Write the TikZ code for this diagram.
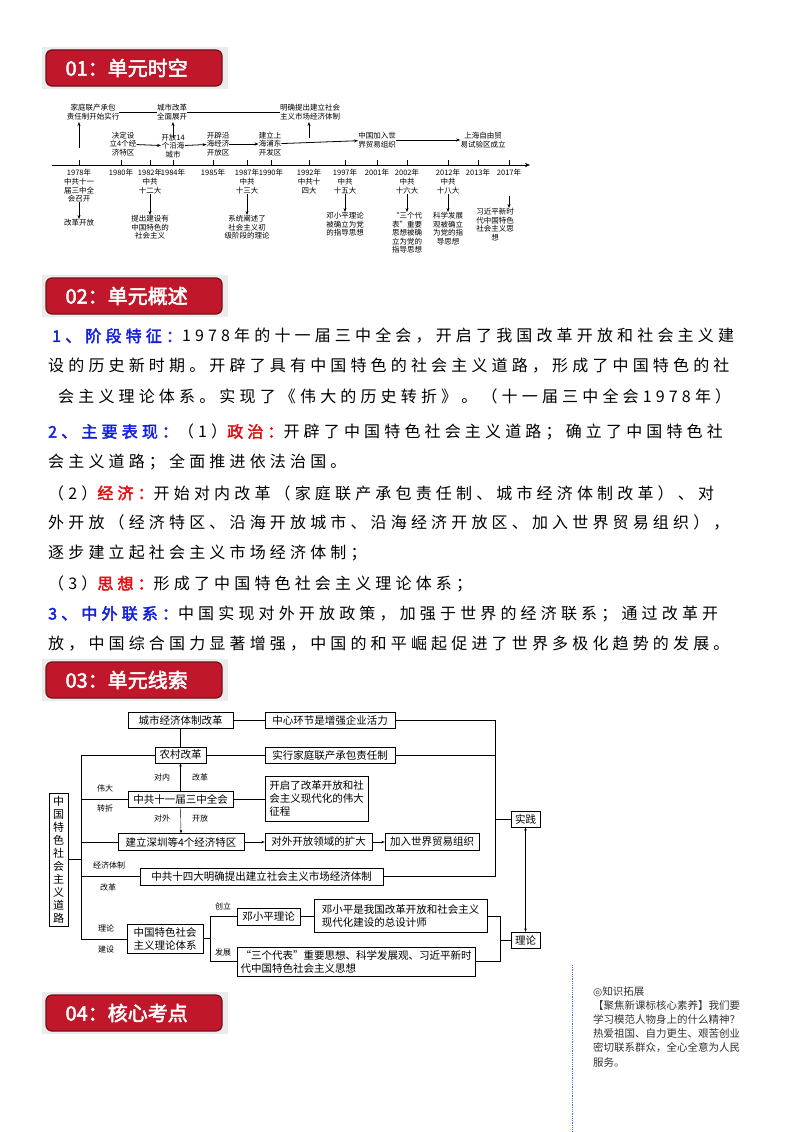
\documentclass[tikz,border=0pt]{standalone}
\usepackage{fontspec}
\setmainfont{Noto Sans CJK SC}[AutoFakeBold=2.5]
\newfontfamily\spfam{Noto Sans CJK SC}[LetterSpace=26,AutoFakeBold=2.5]
\newfontfamily\symfam{DejaVu Sans}
\usetikzlibrary{arrows.meta}
\definecolor{bred}{HTML}{C0172B}
\definecolor{tblue}{HTML}{1420E0}
\definecolor{tred}{HTML}{E01010}
\begin{document}
\begin{tikzpicture}[x=1pt,y=-1pt,
 tl/.style={font=\fontsize{7.5}{8.5}\selectfont,align=center,inner sep=0},
 ar/.style={-{Stealth[length=4pt,width=3pt]},thick},
 bx/.style={draw,font=\fontsize{10.5}{13}\selectfont,inner sep=1,align=left},
 lb/.style={font=\fontsize{8}{9}\selectfont,inner sep=0},
 st/.style={font=\spfam\fontsize{16}{18}\selectfont,anchor=west,inner sep=0},
 ban/.style={fill=bred,draw=bred!60!black,line width=1.2pt,rounded corners=6pt}]
\useasboundingbox (0,0) rectangle (800,1132);
\fill[white] (0,0) rectangle (800,1132);
% banners
\foreach \y/\t in {50/01：单元时空,278/02：单元概述,662/03：单元线索,995/04：核心考点}{
 \fill[black!8] (42,\y-3) rectangle (228,\y+39);
 \draw[ban] (46,\y) rectangle (222,\y+36);
 \node[text=white,font=\bfseries\fontsize{20}{22}\selectfont,anchor=west] at (62,\y+18) {\t};
}
% ===== timeline
\draw[-{Stealth[length=5pt,width=4pt]}] (52,165) -- (530,165);
\foreach \x in {79,121,150,173,213,247,271,309,345,377,407,448,478,509}
 \draw[thick] (\x,165) -- (\x,160);
\foreach \x/\t in {79/1978年,121/1980年,150/1982年,173/1984年,213/1985年,247/1987年,271/1990年,309/1992年,345/1997年,377/2001年,407/2002年,448/2012年,478/2013年,509/2017年}
 \node[tl,anchor=north] (y\t) at (\x,169) {\t};
\node[tl] (t1) at (93,112) {家庭联产承包\\责任制开始实行};
\node[tl] (t2) at (172,112) {城市改革\\全面展开};
\node[tl] (t3) at (310,112) {明确提出建立社会\\主义市场经济体制};
\draw (t1.east) -- (t2.west); \draw (t2.east) -- (t3.west);
\coordinate (u1) at (79,148); \coordinate (u2) at (173,138); \coordinate (u3) at (309,138);
\draw[ar] (u1) -- (79,122); \draw[ar] (u2) -- (173,122); \draw[ar] (u3) -- (309,122);
\node[tl] (m1) at (123,144) {决定设\\立4个经\\济特区};
\node[tl] (m2) at (173,146) {开放14\\个沿海\\城市};
\node[tl] (m3) at (218,144) {开辟沿\\海经济\\开放区};
\node[tl] (m4) at (270,144) {建立上\\海浦东\\开发区};
\node[tl] (m5) at (377,140) {中国加入世\\界贸易组织};
\node[tl] (m6) at (483,140) {上海自由贸\\易试验区成立};
\draw[ar] (m1) -- (m2); \draw[ar] (m2) -- (m3); \draw[ar] (m3) -- (m4);
\draw[ar] (m4) -- (m5); \draw[ar] (m5) -- (m6);
\node[tl,anchor=north] (b1) at (79,178) {中共十一\\届三中全\\会召开};
\node[tl,anchor=north] (b2) at (150,178) {中共\\十二大};
\node[tl,anchor=north] (b3) at (247,178) {中共\\十三大};
\node[tl,anchor=north] (b4) at (309,178) {中共十\\四大};
\node[tl,anchor=north] (b5) at (345,178) {中共\\十五大};
\node[tl,anchor=north] (b6) at (407,178) {中共\\十六大};
\node[tl,anchor=north] (b7) at (448,178) {中共\\十八大};
\node[tl,anchor=north] (c1) at (79,219) {改革开放};
\node[tl,anchor=north] (c2) at (150,215) {提出建设有\\中国特色的\\社会主义};
\node[tl,anchor=north] (c3) at (247,215) {系统阐述了\\社会主义初\\级阶段的理论};
\node[tl,anchor=north] (c5) at (345,212) {邓小平理论\\被确立为党\\的指导思想};
\node[tl,anchor=north] (c6) at (407,212) {“三个代\\表”重要\\思想被确\\立为党的\\指导思想};
\node[tl,anchor=north] (c7) at (448,212) {科学发展\\观被确立\\为党的指\\导思想};
\node[tl,anchor=north] (c8) at (495,208) {习近平新时\\代中国特色\\社会主义思\\想};
\draw[ar] (b1) -- (c1); \draw[ar] (b2) -- (c2); \draw[ar] (b3) -- (c3);
\draw[ar] (b5) -- (c5); \draw[ar] (b6) -- (c6); \draw[ar] (b7) -- (c7);
\coordinate (d8) at (509,196); \draw[ar] (d8) -- (c8.north -| d8);
% ===== section 2
\node[st] (p1) at (52,336) {\textcolor{tblue}{\bfseries 1、阶段特征：}1978年的十一届三中全会，开启了我国改革开放和社会主义建};
\node[st] (p2) at (48,366) {设的历史新时期。开辟了具有中国特色的社会主义道路，形成了中国特色的社};
\node[st] (p3) at (58,396) {会主义理论体系。实现了《伟大的历史转折》。（十一届三中全会1978年）};
\node[st] (p4) at (48,432) {\textcolor{tblue}{\bfseries 2、主要表现：}（1）\textcolor{tred}{\bfseries 政治：}开辟了中国特色社会主义道路；确立了中国特色社};
\node[st] (p5) at (48,462) {会主义道路；全面推进依法治国。};
\node[st] (p6) at (48,493) {（2）\textcolor{tred}{\bfseries 经济：}开始对内改革（家庭联产承包责任制、城市经济体制改革）、对};
\node[st] (p7) at (48,523) {外开放（经济特区、沿海开放城市、沿海经济开放区、加入世界贸易组织），};
\node[st] (p8) at (48,553) {逐步建立起社会主义市场经济体制；};
\node[st] (p9) at (48,584) {（3）\textcolor{tred}{\bfseries 思想：}形成了中国特色社会主义理论体系；};
\node[st] (p10) at (48,614) {\textcolor{tblue}{\bfseries 3、中外联系：}中国实现对外开放政策，加强于世界的经济联系；通过改革开};
\node[st] (p11) at (48,644) {放，中国综合国力显著增强，中国的和平崛起促进了世界多极化趋势的发展。};
% ===== section 3
\node[bx,minimum width=105,minimum height=16,align=center] (a1) at (180.5,720) {城市经济体制改革};
\node[bx,minimum width=130,minimum height=16,align=center] (a2) at (330,720) {中心环节是增强企业活力};
\node[bx,minimum width=51,minimum height=16,align=center] (a3) at (180.5,755) {农村改革};
\node[bx,minimum width=130,minimum height=16,align=center] (a4) at (330,755) {实行家庭联产承包责任制};
\node[bx,minimum width=105,minimum height=16,align=center] (a5) at (180.5,799) {中共十一届三中全会};
\node[bx,minimum width=103,minimum height=45,align=left] (a6) at (316.5,798.5) {开启了改革开放和社\\会主义现代化的伟大\\征程};
\node[bx,minimum width=126,minimum height=17,align=center] (a7) at (181,842) {建立深圳等4个经济特区};
\node[bx,minimum width=107,minimum height=17,align=center] (a8) at (318.5,842) {对外开放领域的扩大};
\node[bx,minimum width=94,minimum height=17,align=center] (a9) at (432,842) {加入世界贸易组织};
\node[bx,minimum width=243,minimum height=17,align=center] (a10) at (261.5,876.5) {中共十四大明确提出建立社会主义市场经济体制};
\node[bx,minimum width=63,minimum height=17,align=center] (a11) at (268.5,916.5) {邓小平理论};
\node[bx,minimum width=173,minimum height=33,align=left] (a12) at (400.5,915.5) {邓小平是我国改革开放和社会主义\\现代化建设的总设计师};
\node[bx,minimum width=76,minimum height=29,align=left] (a13) at (165,938.5) {中国特色社会\\主义理论体系};
\node[bx,minimum width=238,minimum height=29,align=left] (a14) at (356,961.5) {“三个代表”重要思想、科学发展观、习近平新时\\代中国特色社会主义思想};
\node[bx,minimum width=19,minimum height=133,align=center,font=\fontsize{11}{13}\selectfont] (m) at (58.5,859.5) {中\\国\\特\\色\\社\\会\\主\\义\\道\\路};
\node[bx,minimum width=29,minimum height=16,align=center] (sj) at (525.5,819) {实践};
\node[bx,minimum width=29,minimum height=16,align=center] (ll) at (525.5,940) {理论};
% connectors
\coordinate (sp1) at (81,755); \coordinate (sp2) at (81,939);
\draw (m.east |- 0,859) -- (81,859);
\draw (sp1) -- (sp2);
\draw (sp1) -- (a3.west);
\draw (81,799) -- (a5.west);
\draw (81,842) -- (a7.west);
\draw (81,876.5) -- (a10.west);
\draw (sp2) -- (a13.west |- sp2);
\draw (a3.north) -- (a1.south);
\draw (a1.east) -- (a2.west);
\draw (a3.east) -- (a4.west);
\draw[-{Stealth[length=3.5pt,width=2.5pt]}] (a5.north) -- (a3.south);
\draw[-{Stealth[length=3.5pt,width=2.5pt]}] (a5.south) -- (a7.north);
\draw (a5.east) -- (a6.west |- a5.east);
\draw[-{Stealth[length=3.5pt,width=2.5pt]}] (a7.east) -- (a8.west);
\draw[-{Stealth[length=3.5pt,width=2.5pt]}] (a8.east) -- (a9.west);
\coordinate (r1) at (495,720); \coordinate (r2) at (495,876.5);
\draw (a2.east) -- (r1) -- (r2) -- (a10.east);
\draw (a4.east) -- (a4.east -| r1);
\draw (495,819) -- (sj.west);
\coordinate (q1) at (210,916.5); \coordinate (q2) at (210,961.5);
\draw (a13.east |- 0,938.5) -- (210,938.5);
\draw (a11.west) -- (q1) -- (q2) -- (a14.west);
\draw (a11.east) -- (a12.west |- a11.east);
\coordinate (s1) at (500,916.5); \coordinate (s2) at (500,961.5);
\draw (a12.east |- s1) -- (s1) -- (s2) -- (a14.east);
\draw (500,940) -- (ll.west);
\draw[{Stealth[length=3.5pt,width=2.5pt]}-{Stealth[length=3.5pt,width=2.5pt]}] (sj.south) -- (ll.north);
% labels
\node[lb] (l1) at (162,777) {对内}; \node[lb] (l2) at (200,777) {改革};
\node[lb] (l3) at (162,818) {对外}; \node[lb] (l4) at (200,818) {开放};
\node[lb] (l5) at (105,788) {伟大}; \node[lb] (l6) at (105,808) {转折};
\node[lb] (l7) at (109,865) {经济体制}; \node[lb] (l8) at (108,887) {改革};
\node[lb] (l9) at (106,928) {理论}; \node[lb] (l10) at (106,949) {建设};
\node[lb] (l11) at (223,906) {创立}; \node[lb] (l12) at (223,952) {发展};
% ===== side box
\draw[tblue!70,densely dotted,thick] (572,965) -- (572,1132);
\node[anchor=north west,align=left,inner sep=0,font=\fontsize{10.5}{14.2}\selectfont,text=black!80] (k) at (593,986)
{{\symfam ◎}知识拓展\\【聚焦新课标核心素养】我们要\\学习模范人物身上的什么精神？\\热爱祖国、自力更生、艰苦创业\\密切联系群众，全心全意为人民\\服务。};
\end{tikzpicture}
\end{document}
